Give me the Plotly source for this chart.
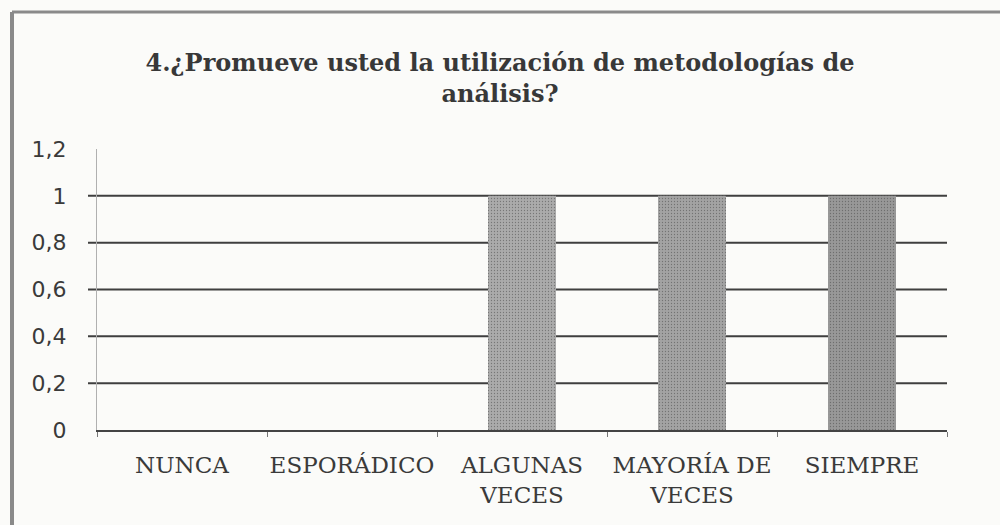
import plotly.graph_objects as go

categories = ["NUNCA", "ESPORÁDICO", "ALGUNAS<br>VECES", "MAYORÍA DE<br>VECES", "SIEMPRE"]
values = [0, 0, 1, 1, 1]
bar_colors = ["#a0a0a0", "#a0a0a0", "#ababab", "#a3a3a3", "#989898"]
y_ticks = [0, 0.2, 0.4, 0.6, 0.8, 1.0, 1.2]
title_text = "4.¿Promueve usted la utilización de metodologías de<br>análisis?"

W, H = 1000, 525
L, R, T, B = 97, 53, 149, 95
pw, ph = W - L - R, H - T - B

def px_x(p):
    return (p - L) / pw

def px_y(p):
    return (H - B - p) / ph

fig = go.Figure()
fig.add_trace(go.Bar(
    x=categories, y=values,
    marker=dict(color=bar_colors, line=dict(width=0),
                pattern=dict(shape=".", size=3, solidity=0.15, fgcolor="#7a7a7a", fillmode="overlay")),
    width=0.4,
))

shapes = []
for v in y_ticks[1:-1]:
    shapes.append(dict(type="line", xref="paper", yref="y", x0=px_x(88), x1=1.0, y0=v, y1=v,
                       line=dict(color="#3f3f3f", width=2), layer="below"))
# frame around chart
shapes.append(dict(type="line", xref="paper", yref="paper", x0=px_x(12), x1=px_x(1000),
                   y0=px_y(12), y1=px_y(12), line=dict(color="#8a8a8a", width=3)))
shapes.append(dict(type="line", xref="paper", yref="paper", x0=px_x(12), x1=px_x(12),
                   y0=px_y(12), y1=px_y(525), line=dict(color="#8a8a8a", width=4)))

fig.update_layout(
    width=W, height=H,
    margin=dict(l=L, r=R, t=T, b=B, autoexpand=False),
    paper_bgcolor="#fbfbf9", plot_bgcolor="#fbfbf9",
    separators=",.",
    showlegend=False,
    bargap=0.6,
    title=dict(text=title_text, x=0.5, xanchor="center", y=(H - 71) / H, yanchor="top",
               font=dict(family="DejaVu Serif", size=24, color="#383838", weight="bold")),
    shapes=shapes,
    xaxis=dict(showline=True, linecolor="#444", linewidth=2, ticks="outside", tickson="boundaries",
               ticklen=5, tickcolor="#777", showgrid=False, automargin=False, ticklabelstandoff=13,
               tickangle=0,
               tickfont=dict(family="DejaVu Serif", size=23, color="#3a3a3a")),
    yaxis=dict(range=[0, 1.2], tickvals=y_ticks, showgrid=False, zeroline=False,
               showline=True, linecolor="#b0b0b0", linewidth=1, automargin=False,
               tickfont=dict(family="DejaVu Sans", size=22, color="#3a3a3a"), ticklabelstandoff=25),
)

fig.write_html("out.html", config={"displayModeBar": False},
               post_script="document.body.style.margin='0';")
